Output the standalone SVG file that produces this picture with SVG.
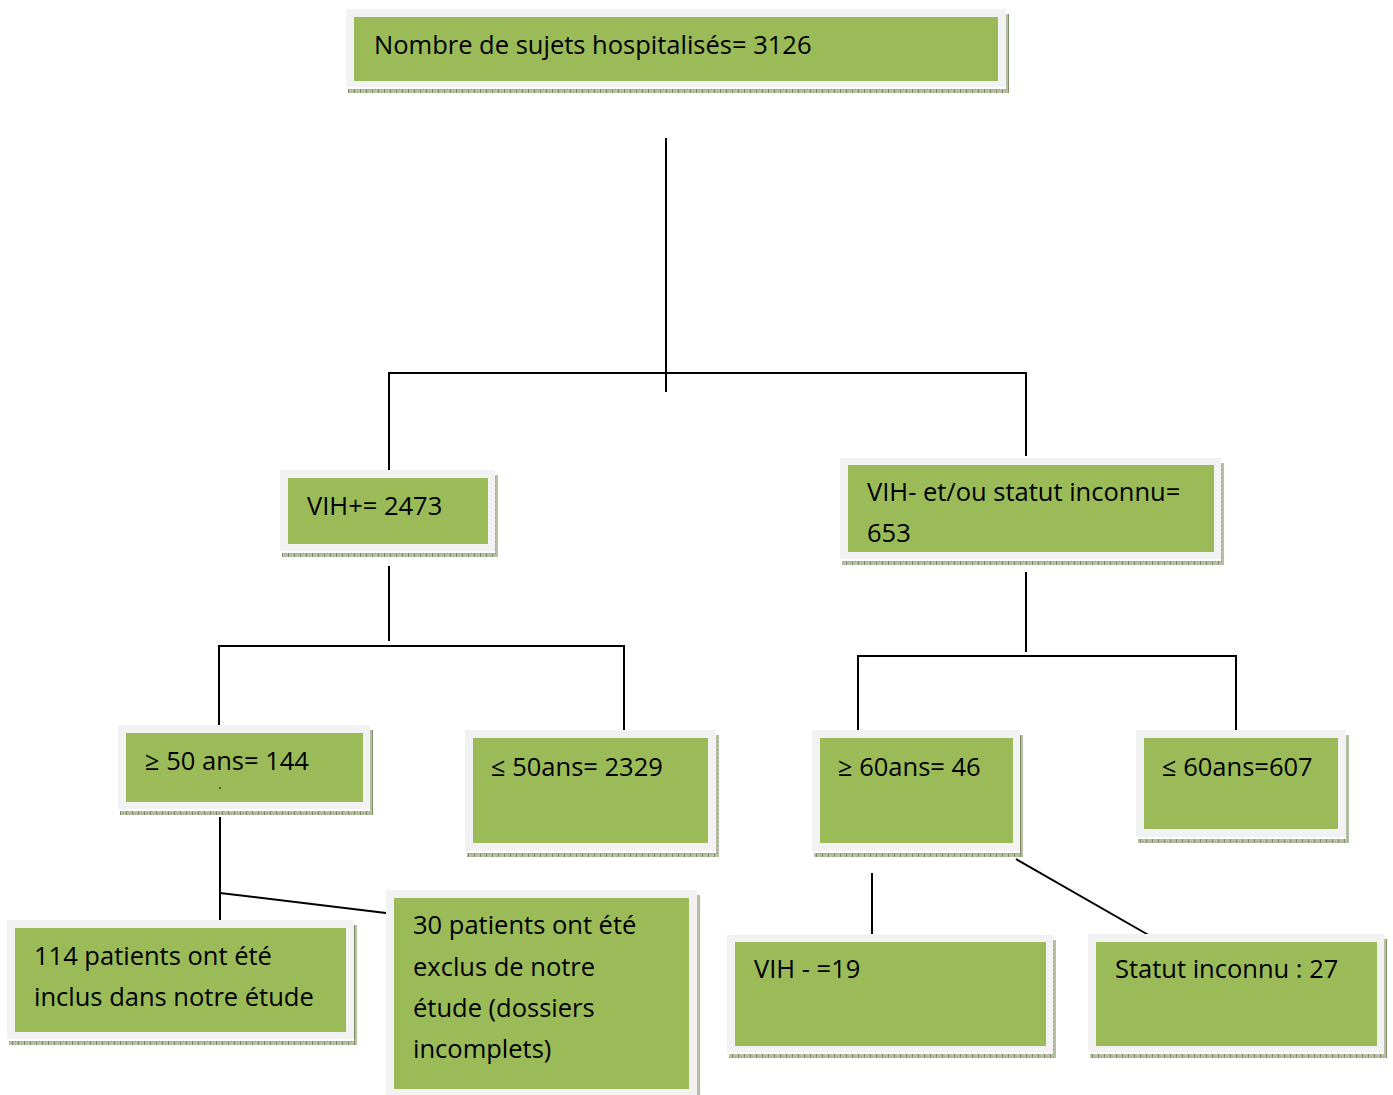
<svg xmlns="http://www.w3.org/2000/svg" width="1393" height="1095" viewBox="0 0 1393 1095">
<defs>
<pattern id="hatch" width="6" height="4" patternUnits="userSpaceOnUse">
<rect width="6" height="4" fill="#b7bfa5"/>
<rect x="0" y="0" width="1" height="4" fill="#7d8c66"/>
<rect x="3" y="1" width="1" height="1" fill="#8f9c7a"/>
</pattern>
</defs>
<style>
.sh{fill:url(#hatch)}
.outer{fill:#f2f2f2}
.inner{fill:#9bbb59}
.t{font-family:"Open Sans","Liberation Sans",sans-serif;font-size:25.5px;fill:#000}
.c line,.c polyline{stroke:#000;stroke-width:2;fill:none}
</style>
<rect width="1393" height="1095" fill="#fff"/>
<g class="c" id="connectors">
<line x1="666" y1="138" x2="666" y2="392"/>
<polyline points="389,470 389,373 1026,373 1026,456"/>
<line x1="389" y1="566" x2="389" y2="641"/>
<polyline points="219,725 219,646 624,646 624,730"/>
<line x1="1026" y1="572" x2="1026" y2="652"/>
<polyline points="858,730 858,656 1236,656 1236,730"/>
<line x1="220" y1="817" x2="220" y2="920"/>
<line x1="220" y1="893" x2="386" y2="913"/>
<line x1="872" y1="873" x2="872" y2="934"/>
<line x1="1016" y1="859" x2="1152" y2="937"/>
</g>
<g id="n1">
<rect class="sh" x="348" y="89" width="661" height="4"/><rect class="sh" x="1006" y="14" width="3" height="79"/>
<rect class="outer" x="346" y="9" width="660" height="78"/><rect class="inner" x="354" y="17" width="644" height="64"/>
<text class="t" x="374" y="54">Nombre de sujets hospitalisés= 3126</text>
</g>
<g id="n2">
<rect class="sh" x="282" y="553" width="216" height="4"/><rect class="sh" x="495" y="475" width="3" height="82"/>
<rect class="outer" x="280" y="470" width="215" height="81"/><rect class="inner" x="288" y="478" width="200" height="66"/>
<text class="t" x="307" y="515">VIH+= 2473</text>
</g>
<g id="n3">
<rect class="sh" x="842" y="561" width="382" height="4"/><rect class="sh" x="1221" y="463" width="3" height="102"/>
<rect class="outer" x="840" y="458" width="381" height="101"/><rect class="inner" x="848" y="465" width="366" height="87"/>
<text class="t" x="867" y="501">VIH- et/ou statut inconnu=</text>
<text class="t" x="867" y="542">653</text>
</g>
<g id="n4">
<rect class="sh" x="120" y="811" width="253" height="4"/><rect class="sh" x="370" y="730" width="3" height="85"/>
<rect class="outer" x="118" y="725" width="252" height="84"/><rect class="inner" x="126" y="733" width="237" height="69"/>
<text class="t" x="145" y="770">≥ 50 ans= 144</text>
<circle cx="220" cy="788" r="0.8" fill="#000"/>
</g>
<g id="n5">
<rect class="sh" x="467" y="853" width="252" height="4"/><rect class="sh" x="716" y="735" width="3" height="122"/>
<rect class="outer" x="465" y="730" width="251" height="121"/><rect class="inner" x="473" y="738" width="235" height="105"/>
<text class="t" x="491" y="776">≤ 50ans= 2329</text>
</g>
<g id="n6">
<rect class="sh" x="814" y="853" width="209" height="4"/><rect class="sh" x="1020" y="735" width="3" height="122"/>
<rect class="outer" x="812" y="730" width="208" height="121"/><rect class="inner" x="820" y="738" width="193" height="105"/>
<text class="t" x="838" y="776">≥ 60ans= 46</text>
</g>
<g id="n7">
<rect class="sh" x="1138" y="839" width="211" height="4"/><rect class="sh" x="1346" y="735" width="3" height="108"/>
<rect class="outer" x="1136" y="730" width="210" height="107"/><rect class="inner" x="1144" y="738" width="194" height="91"/>
<text class="t" x="1162" y="776">≤ 60ans=607</text>
</g>
<g id="n8">
<rect class="sh" x="9" y="1041" width="348" height="4"/><rect class="sh" x="354" y="925" width="3" height="120"/>
<rect class="outer" x="7" y="920" width="347" height="119"/><rect class="inner" x="15" y="928" width="331" height="104"/>
<text class="t" x="34" y="965">114 patients ont été</text>
<text class="t" x="34" y="1006">inclus dans notre étude</text>
</g>
<g id="n9">
<rect class="sh" x="697" y="895" width="3" height="200"/>
<rect class="outer" x="386" y="890" width="311" height="205"/><rect class="inner" x="394" y="898" width="295" height="191"/>
<text class="t" x="413" y="934">30 patients ont été</text>
<text class="t" x="413" y="976">exclus de notre</text>
<text class="t" x="413" y="1017">étude (dossiers</text>
<text class="t" x="413" y="1058">incomplets)</text>
</g>
<g id="n10">
<rect class="sh" x="729" y="1054" width="327" height="4"/><rect class="sh" x="1053" y="940" width="3" height="118"/>
<rect class="outer" x="727" y="935" width="326" height="117"/><rect class="inner" x="735" y="942" width="311" height="104"/>
<text class="t" x="754" y="978">VIH - =19</text>
</g>
<g id="n11">
<rect class="sh" x="1090" y="1054" width="297" height="4"/><rect class="sh" x="1384" y="939" width="3" height="119"/>
<rect class="outer" x="1088" y="934" width="296" height="118"/><rect class="inner" x="1096" y="942" width="281" height="104"/>
<text class="t" x="1115" y="978">Statut inconnu : 27</text>
</g>
</svg>
